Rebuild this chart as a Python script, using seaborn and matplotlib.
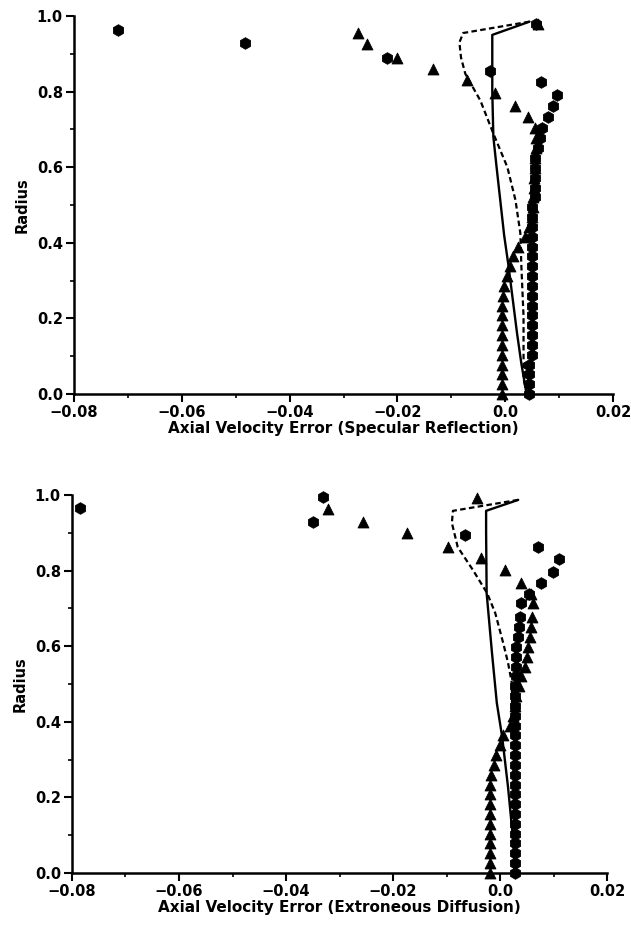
import matplotlib
matplotlib.use("Agg")
import matplotlib.pyplot as plt
import seaborn as sns
import pandas as pd
from matplotlib.ticker import MultipleLocator

# ---------------- data ----------------
# radial grid of the dense inner column of points
col_r = [0.0, 0.026, 0.052, 0.078, 0.104, 0.13, 0.156, 0.182, 0.208, 0.234,
         0.26, 0.286, 0.312, 0.338, 0.364, 0.39, 0.416, 0.442, 0.468, 0.494,
         0.52, 0.546, 0.572, 0.598, 0.624, 0.65, 0.676]

# --- Specular reflection (top) ---
spec_tri_r = col_r + [0.705, 0.732, 0.763, 0.797, 0.832, 0.861, 0.889, 0.926, 0.955, 0.98]
spec_tri_x = [-0.0006, -0.0006, -0.0006, -0.0006, -0.0006, -0.0006, -0.0006, -0.0006, -0.0006, -0.0006,
              -0.0005, -0.0002, 0.0003, 0.0008, 0.0015, 0.0024, 0.0036, 0.0045, 0.0049, 0.0051,
              0.0052, 0.0053, 0.0054, 0.0055, 0.0056, 0.0057, 0.0058,
              0.0055, 0.0043, 0.0019, -0.0019, -0.0071, -0.0134, -0.0200, -0.0257, -0.0273, 0.0060]
spec_star_r = col_r + [0.705, 0.732, 0.761, 0.792, 0.826, 0.855, 0.889, 0.929, 0.963, 0.979]
spec_star_x = [0.0045, 0.0045, 0.0045, 0.0045, 0.0050, 0.0050, 0.0050, 0.0050, 0.0050, 0.0050,
               0.0050, 0.0050, 0.0050, 0.0050, 0.0050, 0.0050, 0.0050, 0.0050, 0.0050, 0.0050,
               0.0055, 0.0055, 0.0055, 0.0055, 0.0055, 0.0060, 0.0065,
               0.0069, 0.0080, 0.0089, 0.0097, 0.0067, -0.0028, -0.0219, -0.0483, -0.0719, 0.0058]
spec_solid_r = [0.985, 0.950, 0.900, 0.800, 0.680, 0.600, 0.510, 0.420, 0.340, 0.250, 0.160, 0.080, 0.030, 0.0]
spec_solid_x = [0.0045, -0.0024, -0.0024, -0.0024, -0.0022, -0.0016, -0.0009, -0.0002, 0.0006, 0.0014,
                0.0022, 0.0030, 0.0036, 0.0040]
spec_dash_r = [0.985, 0.955, 0.930, 0.890, 0.847, 0.776, 0.689, 0.600, 0.513, 0.426, 0.337, 0.205, 0.040, 0.0]
spec_dash_x = [0.0045, -0.0078, -0.0085, -0.0082, -0.0074, -0.0046, -0.0022, 0.0004, 0.0019, 0.0028,
               0.0030, 0.0034, 0.0034, 0.0040]

# --- Extraneous diffusion (bottom) ---
diff_tri_r = col_r + [0.714, 0.738, 0.767, 0.802, 0.833, 0.863, 0.899, 0.929, 0.963, 0.992]
diff_tri_x = [-0.0018, -0.0018, -0.0018, -0.0018, -0.0018, -0.0018, -0.0018, -0.0018, -0.0018, -0.0018,
              -0.0016, -0.0012, -0.0007, 0.0000, 0.0006, 0.0018, 0.0025, 0.0028, 0.0030, 0.0035,
              0.0040, 0.0046, 0.0050, 0.0053, 0.0056, 0.0058, 0.0060,
              0.0062, 0.0058, 0.0039, 0.0009, -0.0035, -0.0097, -0.0173, -0.0256, -0.0321, -0.0043]
diff_star_r = col_r + [0.714, 0.738, 0.767, 0.796, 0.831, 0.862, 0.894, 0.929, 0.966, 0.995]
diff_star_x = [0.0028, 0.0028, 0.0028, 0.0028, 0.0028, 0.0028, 0.0028, 0.0028, 0.0028, 0.0028,
               0.0028, 0.0028, 0.0028, 0.0028, 0.0028, 0.0028, 0.0028, 0.0028, 0.0028, 0.0028,
               0.0030, 0.0030, 0.0030, 0.0030, 0.0033, 0.0035, 0.0037,
               0.0040, 0.0054, 0.0077, 0.0099, 0.0110, 0.0071, -0.0065, -0.0350, -0.0785, -0.0331]
diff_solid_r = [0.987, 0.958, 0.900, 0.740, 0.582, 0.450, 0.360, 0.227, 0.095, 0.0]
diff_solid_x = [0.0034, -0.0026, -0.0026, -0.0025, -0.0015, -0.0006, 0.0004, 0.0015, 0.0024, 0.0028]
diff_dash_r = [0.987, 0.958, 0.926, 0.862, 0.800, 0.740, 0.688, 0.608, 0.556, 0.503, 0.360, 0.0]
diff_dash_x = [0.0034, -0.0088, -0.0090, -0.0079, -0.0050, -0.0024, -0.0009, 0.0006, 0.0015, 0.0022,
               0.0024, 0.0028]

x_ticks = [-0.08, -0.06, -0.04, -0.02, 0.0, 0.02]
x_tick_labels = ["\u22120.08", "\u22120.06", "\u22120.04", "\u22120.02", "0.0", "0.02"]
y_ticks = [0.0, 0.2, 0.4, 0.6, 0.8, 1.0]
y_tick_labels = ["0.0", "0.2", "0.4", "0.6", "0.8", "1.0"]
xlabels = ["Axial Velocity Error (Specular Reflection)",
           "Axial Velocity Error (Extroneous Diffusion)"]

# ---------------- plot ----------------
sns.set_theme(style="ticks")
plt.rcParams["font.family"] = ["DejaVu Sans"]

fig = plt.figure(figsize=(6.31, 9.41), dpi=100)
ax_top = fig.add_axes([0.1173, 0.5813, 0.8542, 0.4017])
ax_bot = fig.add_axes([0.1141, 0.0723, 0.8479, 0.4017])

panels = [
    (ax_top, spec_tri_x, spec_tri_r, spec_star_x, spec_star_r,
     spec_solid_x, spec_solid_r, spec_dash_x, spec_dash_r, xlabels[0]),
    (ax_bot, diff_tri_x, diff_tri_r, diff_star_x, diff_star_r,
     diff_solid_x, diff_solid_r, diff_dash_x, diff_dash_r, xlabels[1]),
]

for (ax, tx, tr, sx, sr, lx, lr, dx, dr, xl) in panels:
    df_solid = pd.DataFrame({"x": lx, "r": lr})
    df_dash = pd.DataFrame({"x": dx, "r": dr})
    df_tri = pd.DataFrame({"x": tx, "r": tr})
    df_star = pd.DataFrame({"x": sx, "r": sr})
    sns.lineplot(data=df_solid, x="x", y="r", sort=False, estimator=None,
                 color="black", lw=1.7, ax=ax, clip_on=False)
    sns.lineplot(data=df_dash, x="x", y="r", sort=False, estimator=None,
                 color="black", lw=1.6, ax=ax, clip_on=False)
    ax.lines[-1].set_dashes((2.5, 1.5))
    sns.scatterplot(data=df_star, x="x", y="r", marker="h", s=70, color="black",
                    edgecolor="black", linewidth=0.6, ax=ax, clip_on=False, zorder=3)
    sns.scatterplot(data=df_tri, x="x", y="r", marker="^", s=62, color="black",
                    edgecolor="black", linewidth=0.6, ax=ax, clip_on=False, zorder=3)

    ax.set_xlim(-0.08, 0.02)
    ax.set_ylim(0.0, 1.0)
    ax.set_xticks(x_ticks)
    ax.set_xticklabels(x_tick_labels, fontsize=10.5, fontweight="bold", color="black")
    ax.set_yticks(y_ticks)
    ax.set_yticklabels(y_tick_labels, fontsize=10.5, fontweight="bold", color="black")
    ax.xaxis.set_minor_locator(MultipleLocator(0.01))
    ax.yaxis.set_minor_locator(MultipleLocator(0.1))
    ax.tick_params(axis="both", which="major", length=6, width=1.5, direction="out",
                   colors="black", pad=2)
    ax.tick_params(axis="both", which="minor", length=3, width=1.2, direction="out",
                   colors="black")
    for side in ["top", "right"]:
        ax.spines[side].set_visible(False)
    for side in ["left", "bottom"]:
        ax.spines[side].set_linewidth(1.8)
        ax.spines[side].set_color("black")
    ax.set_xlabel(xl, fontsize=11, fontweight="bold", labelpad=1, color="black")
    ax.set_ylabel("Radius", fontsize=10.5, fontweight="bold", labelpad=5, color="black")
    ax.set_facecolor("white")

fig.savefig("out.png", dpi=100, facecolor="white")
